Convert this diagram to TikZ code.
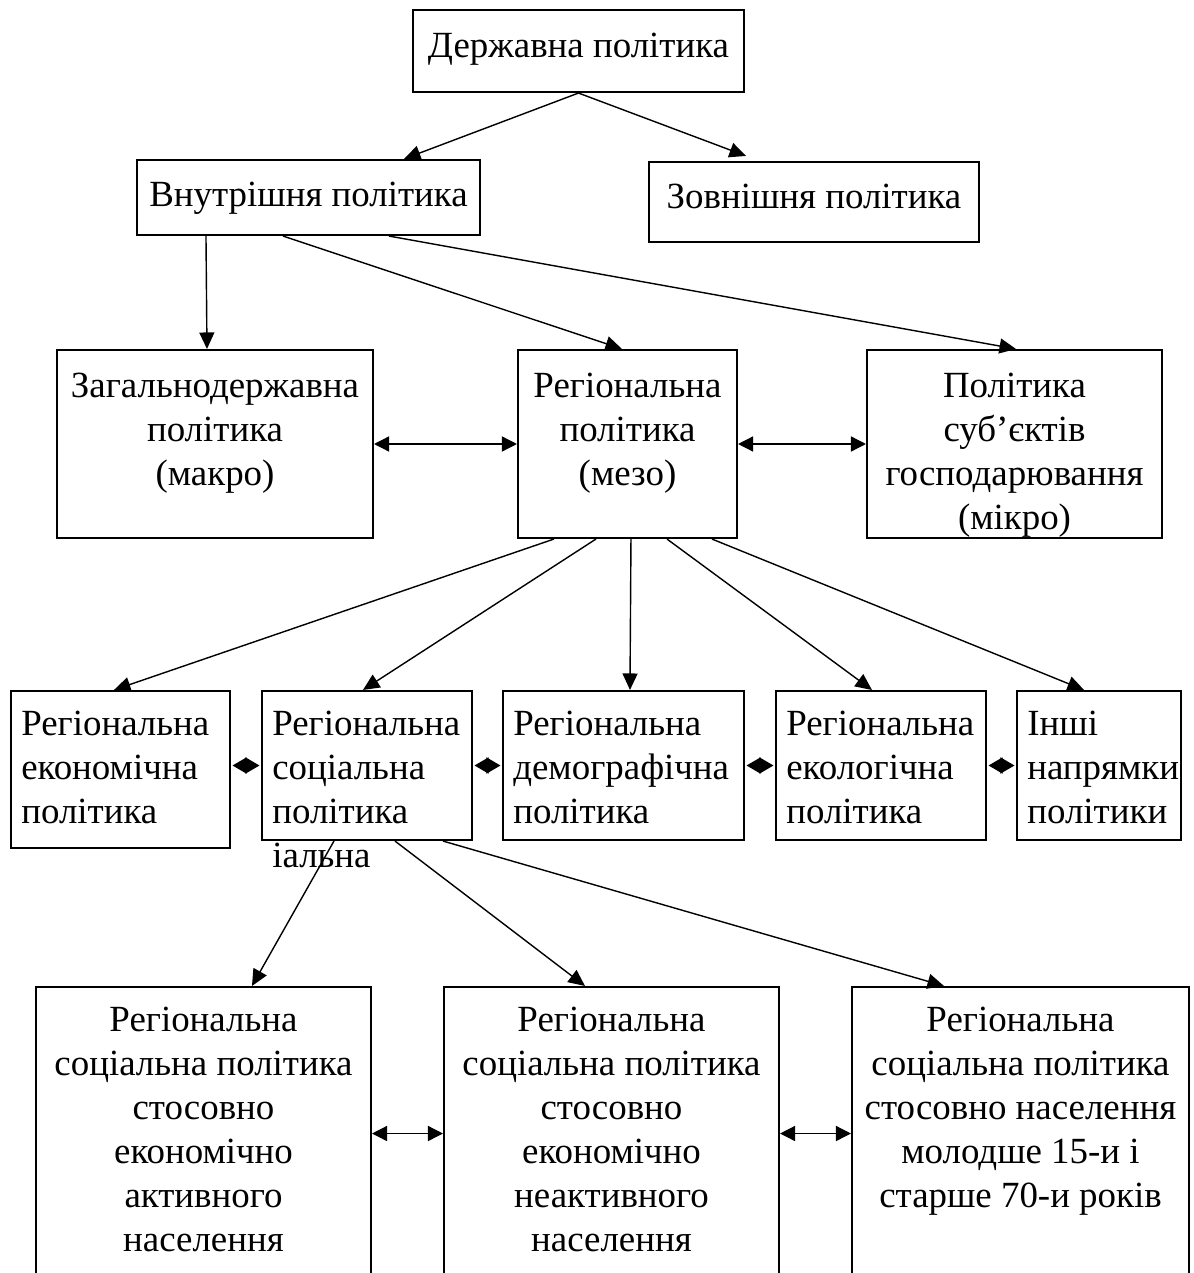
\documentclass[tikz,border=0pt]{standalone}
\usepackage{fontspec}
\setmainfont{Liberation Serif}
\usetikzlibrary{arrows.meta,positioning,calc}

\begin{document}
\begin{tikzpicture}[x=0.02cm, y=-0.02cm,
    every node/.style={font=\fontsize{21}{25}\selectfont},
    box/.style={draw, line width=1.2pt, inner sep=0pt},
    ctext/.style={inner sep=0pt, align=center, anchor=north},
    ltext/.style={inner sep=0pt, align=left, anchor=north west},
    arr/.style={line width=0.8pt, -{Triangle[length=0.33cm, width=0.3cm]}},
    dbl/.style={line width=0.8pt, {Triangle[length=0.3cm, width=0.3cm]}-{Triangle[length=0.3cm, width=0.3cm]}},
    dia/.style={line width=0.8pt, shorten <=0.03cm, shorten >=0.03cm,
        {Triangle[length=0.28cm, width=0.32cm]}-{Triangle[length=0.28cm, width=0.32cm]}}]
        \useasboundingbox (0,0) rectangle (1193,1273);

        % top levels
        \node[box, minimum width=6.62cm, minimum height=1.64cm] (der) at (578.5,51) {};
        \node[ctext] (der-t) at ($(der.north)+(0,24)$) {Державна політика};
        \node[box, minimum width=6.86cm, minimum height=1.5cm] (vn) at (308.5,197.5) {};
        \node[ctext] (vn-t) at ($(vn.north)+(0,23)$) {Внутрішня політика};
        \node[box, minimum width=6.6cm, minimum height=1.6cm] (zov) at (814,202) {};
        \node[ctext] (zov-t) at ($(zov.north)+(0,23)$) {Зовнішня політика};

        \node[box, minimum width=6.32cm, minimum height=3.76cm] (zag) at (215,444) {};
        \node[ctext] (zag-t) at ($(zag.north)+(0,24)$) {Загальнодержавна\\політика\\(макро)};
        \node[box, minimum width=4.38cm, minimum height=3.76cm] (reg) at (627.5,444) {};
        \node[ctext] (reg-t) at ($(reg.north)+(0,24)$) {Регіональна\\політика\\(мезо)};
        \node[box, minimum width=5.9cm, minimum height=3.76cm] (pol) at (1014.5,444) {};
        \node[ctext] (pol-t) at ($(pol.north)+(0,24)$) {Політика\\суб’єктів\\господарювання\\(мікро)};

        % directions
        \node[box, minimum width=4.38cm, minimum height=3.14cm] (ek) at (120.5,769.5) {};
        \node[ltext] (ek-t) at ($(ek.north west)+(11,21)$) {Регіональна\\економічна\\політика};
        \node[box, minimum width=4.2cm, minimum height=2.98cm] (soc) at (367,765.5) {};
        \node[ltext] (soc-t) at ($(soc.north west)+(11,21)$) {Регіональна\\соціальна\\політика\\іальна};
        \node[box, minimum width=4.82cm, minimum height=2.98cm] (dem) at (623.5,765.5) {};
        \node[ltext] (dem-t) at ($(dem.north west)+(11,21)$) {Регіональна\\демографічна\\політика};
        \node[box, minimum width=4.2cm, minimum height=2.98cm] (ekl) at (881,765.5) {};
        \node[ltext] (ekl-t) at ($(ekl.north west)+(11,21)$) {Регіональна\\екологічна\\політика};
        \node[box, minimum width=3.28cm, minimum height=2.98cm] (inshi) at (1099,765.5) {};
        \node[ltext] (inshi-t) at ($(inshi.north west)+(11,21)$) {Інші\\напрямки\\політики};

        % social policy groups
        \node[box, minimum width=6.7cm, minimum height=5.86cm] (grA) at (203.5,1133.5) {};
        \node[ctext] (grA-t) at ($(grA.north)+(0,21)$) {Регіональна\\соціальна політика\\стосовно\\економічно\\активного\\населення};
        \node[box, minimum width=6.7cm, minimum height=5.86cm] (grB) at (611.5,1133.5) {};
        \node[ctext] (grB-t) at ($(grB.north)+(0,21)$) {Регіональна\\соціальна політика\\стосовно\\економічно\\неактивного\\населення};
        \node[box, minimum width=6.74cm, minimum height=5.86cm] (grC) at (1020.5,1133.5) {};
        \node[ctext] (grC-t) at ($(grC.north)+(0,21)$) {Регіональна\\соціальна політика\\стосовно населення\\молодше 15-и і\\старше 70-и років};

        \draw[arr] (der.south) -- ($(vn.north west)+(268,0)$);
        \draw[arr] (der.south) -- ($(zov.north west)+(98,-5)$);
        \draw[arr] ($(vn.south west)+(70,0)$) -- ($(zag.north west)+(151,0)$);
        \draw[arr] ($(vn.south west)+(147,0)$) -- ($(reg.north west)+(105,0)$);
        \draw[arr] ($(vn.south west)+(253,0)$) -- ($(pol.north west)+(150,0)$);
        \draw[dbl] (zag.east) -- (reg.west);
        \draw[dbl] (reg.east) -- (pol.west);

        \foreach \s/\e/\o in {37/ek/104, 79/soc/102, 114/dem/128, 150/ekl/97, 195/inshi/68}
            \draw[arr] ($(reg.south west)+(\s,0)$) -- ($(\e.north west)+(\o,0)$);

        \foreach \a/\b in {ek/soc, soc/dem, dem/ekl, ekl/inshi}
            \draw[dia] (\a.east |- \b.west) -- (\b.west);

        \foreach \s/\e/\o in {73/grA/217, 134/grB/142, 182/grC/93}
            \draw[arr] ($(soc.south west)+(\s,0)$) -- ($(\e.north west)+(\o,0)$);
        \draw[dbl] (grA.east) -- (grB.west);
        \draw[dbl] (grB.east) -- (grC.west);
    \end{tikzpicture}
\end{document}
